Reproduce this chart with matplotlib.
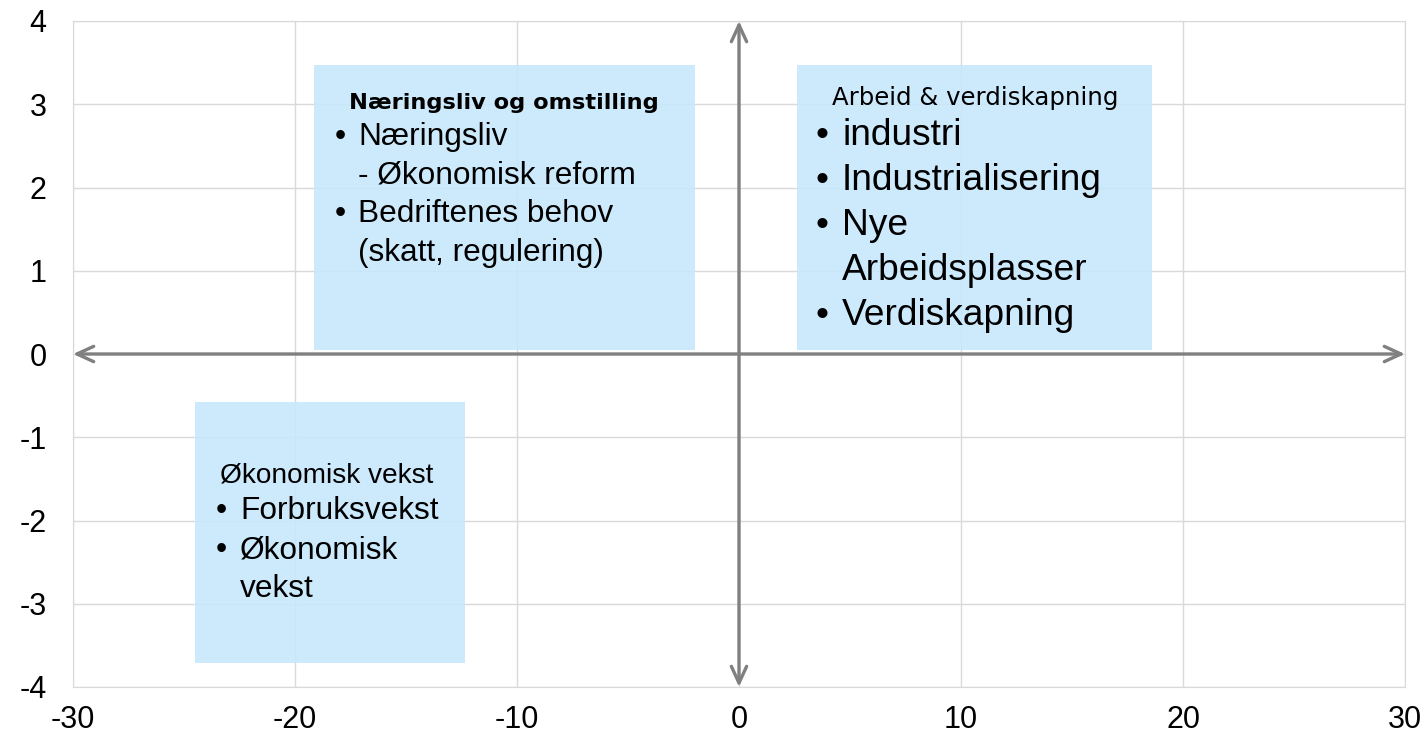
import matplotlib.pyplot as plt
from matplotlib.patches import Rectangle

plt.rcParams['font.family'] = ['Liberation Sans', 'DejaVu Sans']
plt.rcParams['axes.unicode_minus'] = False

# axes ranges and ticks
x_ticks = [-30, -20, -10, 0, 10, 20, 30]
y_ticks = [-4, -3, -2, -1, 0, 1, 2, 3, 4]

# quadrant boxes: (x0, x1, y0, y1)
box_extents = [(-19.14, -1.98, 0.05, 3.47),
               (2.61, 18.6, 0.05, 3.47),
               (-24.5, -12.34, -3.71, -0.58)]

box_titles = ["Næringsliv og omstilling", "Arbeid & verdiskapning", "Økonomisk vekst"]

# (bullet?, text)
box_lines = [
    [(True, "Næringsliv"), (False, "- Økonomisk reform"),
     (True, "Bedriftenes behov"), (False, "(skatt, regulering)")],
    [(True, "industri"), (True, "Industrialisering"), (True, "Nye"),
     (False, "Arbeidsplasser"), (True, "Verdiskapning")],
    [(True, "Forbruksvekst"), (True, "Økonomisk"), (False, "vekst")],
]

# layout per box
title_pos = [(-10.59, 3.015), (10.63, 3.075), (-18.56, -1.465)]
title_style = [dict(family='DejaVu Sans', weight='bold', size=16.2),
               dict(family='DejaVu Sans', size=17.6),
               dict(family='Liberation Sans', size=20.2)]
bullet_x = [-18.2, 3.45, -23.55]
text_x = [-17.16, 4.64, -22.48]
first_y = [2.607, 2.619, -1.886]
step_y = [0.465, 0.538, 0.47]
body_size = [22.8, 26.7, 22.8]

fig = plt.figure(figsize=(14.24, 7.41), dpi=100)
ax = fig.add_axes([73 / 1424, 1 - 687 / 741, (1405 - 73) / 1424, (687 - 21) / 741])
ax.set_xlim(-30, 30)
ax.set_ylim(-4, 4)
ax.set_xticks(x_ticks)
ax.set_yticks(y_ticks)
ax.grid(True, color='#d9d9d9', lw=1)
ax.set_axisbelow(True)
for s in ax.spines.values():
    s.set_color('#d9d9d9')
ax.tick_params(length=0, labelsize=22)
ax.tick_params(axis='y', pad=19)
ax.tick_params(axis='x', pad=13)

for i, (x0, x1, y0, y1) in enumerate(box_extents):
    ax.add_patch(Rectangle((x0, y0), x1 - x0, y1 - y0, facecolor='#c6e8fd',
                           alpha=0.88, edgecolor='none', zorder=2))
    ax.text(title_pos[i][0], title_pos[i][1], box_titles[i], ha='center',
            va='center', zorder=4, **title_style[i])
    for j, (bul, txt) in enumerate(box_lines[i]):
        y = first_y[i] - j * step_y[i]
        if bul:
            ax.text(bullet_x[i], y, "•", ha='left', va='center',
                    fontsize=body_size[i], zorder=4)
        ax.text(text_x[i], y, txt, ha='left', va='center',
                fontsize=body_size[i], zorder=4)

arrow = dict(arrowstyle='<->,head_length=1.2,head_width=0.55', color='#808080',
             lw=2.4, shrinkA=0, shrinkB=0)
ax.annotate('', xy=(30, 0), xytext=(-30, 0), arrowprops=arrow, zorder=3)
ax.annotate('', xy=(0, 4), xytext=(0, -4), arrowprops=arrow, zorder=3)

fig.savefig('out.png', dpi=100)
